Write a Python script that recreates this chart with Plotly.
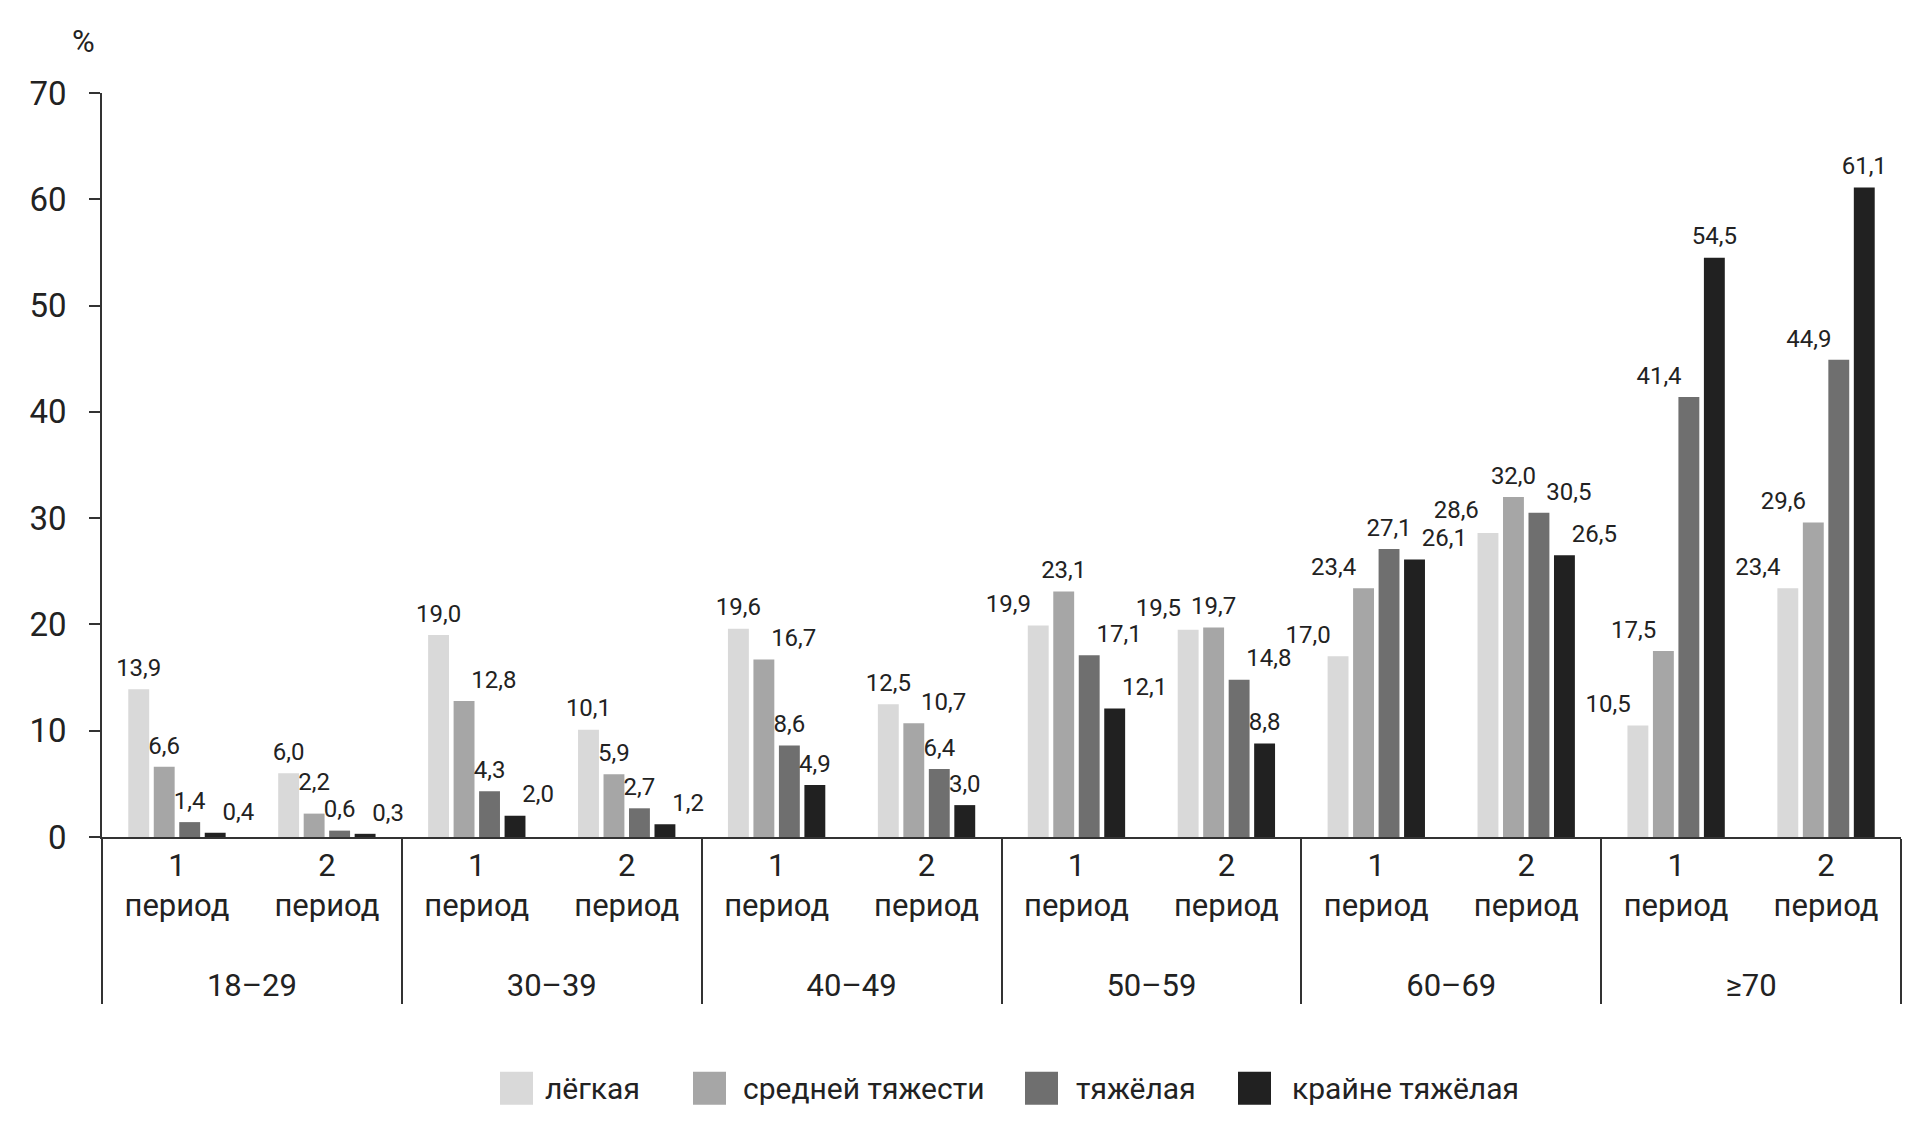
import plotly.graph_objects as go

ages = ["18–29", "30–39", "40–49", "50–59", "60–69", "≥70"]
periods = ["1<br>период<br>&nbsp;", "2<br>период<br>&nbsp;"]
series_names = ["лёгкая", "средней тяжести", "тяжёлая", "крайне тяжёлая"]
colors = ["#d9d9d9", "#a6a6a6", "#6f6f6f", "#212121"]

light = [13.9, 6.0, 19.0, 10.1, 19.6, 12.5, 19.9, 19.5, 17.0, 28.6, 10.5, 23.4]
medium = [6.6, 2.2, 12.8, 5.9, 16.7, 10.7, 23.1, 19.7, 23.4, 32.0, 17.5, 29.6]
heavy = [1.4, 0.6, 4.3, 2.7, 8.6, 6.4, 17.1, 14.8, 27.1, 30.5, 41.4, 44.9]
extreme = [0.4, 0.3, 2.0, 1.2, 4.9, 3.0, 12.1, 8.8, 26.1, 26.5, 54.5, 61.1]
values = [light, medium, heavy, extreme]

# value-label placement style (keeps neighbouring labels apart, as in the original)
C, Lf, Rt = "top center", "top left", "top right"
label_pos = [
    [C, C, C, C, C, C, Lf, Lf, Lf, Lf, Lf, Lf],
    [C, C, Rt, C, Rt, Rt, C, C, Lf, C, Lf, Lf],
    [C, C, C, C, C, C, Rt, Rt, C, Rt, Lf, Lf],
    [Rt, Rt, Rt, Rt, C, C, Rt, C, Rt, Rt, C, C],
]
# invisible marker sizes: a larger size lifts the label further from the bar
label_lift = [
    [10, 10, 10, 10, 10, 10, 10, 10, 10, 13, 10, 10],
    [10, 27, 10, 10, 10, 10, 10, 10, 10, 10, 10, 10],
    [10, 10, 10, 10, 10, 10, 10, 10, 10, 10, 10, 10],
    [10, 10, 10, 10, 10, 10, 10, 10, 10, 10, 10, 10],
]

x_age = [a for a in ages for _ in periods]
x_period = [p for _ in ages for p in periods]

FONT = "Roboto, Liberation Sans, sans-serif"
TXT = "#222222"
LINE = "#333333"

# page is offset by the default 8px body margin
OFF = 8
W, H = 1926 - 2 * OFF, 1128 - 2 * OFF
L = 102 - OFF
T = 92.6 - OFF
R = W - (1901 - OFF)
B = H - (837 - OFF)
pw = W - L - R
ph = H - T - B

def px_x(px):
    return (px - OFF - L) / pw

def px_y(py):
    return (H - B - (py - OFF)) / ph

fig = go.Figure()
for name, vals, col in zip(series_names, values, colors):
    fig.add_trace(go.Bar(
        x=[x_age, x_period], y=vals, name=name,
        marker=dict(color=col, line=dict(width=0)),
        showlegend=False, hoverinfo="x+y",
    ))
for name, vals, pos, lift in zip(series_names, values, label_pos, label_lift):
    fig.add_trace(go.Scatter(
        x=[x_age, x_period], y=vals, name=name, mode="markers+text",
        marker=dict(size=lift, opacity=0),
        texttemplate="%{y:.1f}", textposition=pos,
        cliponaxis=False, showlegend=False, hoverinfo="skip",
        textfont=dict(family=FONT, size=24, color=TXT),
    ))

fig.update_layout(
    width=W, height=H,
    margin=dict(l=L, r=R, t=T, b=B, autoexpand=False),
    plot_bgcolor="white", paper_bgcolor="white",
    barmode="group", bargap=0.32, bargroupgap=0.18,
    scattermode="group", scattergap=0.32,
    separators=", ",
    font=dict(family=FONT, size=31, color=TXT),
    showlegend=False,
)
fig.update_xaxes(
    type="multicategory", showline=True, linecolor=LINE, linewidth=1.5,
    ticks="", showgrid=False, showdividers=True, dividercolor=LINE, dividerwidth=1.5,
    tickfont=dict(family=FONT, size=31, color=TXT), automargin=False,
)
fig.update_yaxes(
    range=[0, 70], dtick=10, showline=True, linecolor=LINE, linewidth=1.5,
    ticks="outside", ticklen=11, tickwidth=1.5, tickcolor=LINE,
    showgrid=False, zeroline=False, ticklabelstandoff=16, automargin=False,
    tickfont=dict(family=FONT, size=33, color=TXT),
)

fig.add_annotation(x=px_x(83), y=px_y(41), xref="paper", yref="paper",
                   xanchor="center", yanchor="middle",
                   text="%", showarrow=False, font=dict(family=FONT, size=31, color=TXT))

# manual legend (page pixel positions)
leg_sq = [500, 693, 1025, 1238]
leg_tx = [543, 741, 1074, 1290]
sq_top, sq_bot = 1072, 1105
for name, col, sx, tx in zip(series_names, colors, leg_sq, leg_tx):
    fig.add_shape(type="rect", xref="paper", yref="paper",
                  x0=px_x(sx), x1=px_x(sx + 33), y0=px_y(sq_bot), y1=px_y(sq_top),
                  fillcolor=col, line=dict(width=0))
    fig.add_annotation(x=px_x(tx), y=px_y((sq_top + sq_bot) / 2), xref="paper", yref="paper",
                       xanchor="left", yanchor="middle", text=name, showarrow=False,
                       font=dict(family=FONT, size=30, color=TXT))

fig.write_html("out.html")
